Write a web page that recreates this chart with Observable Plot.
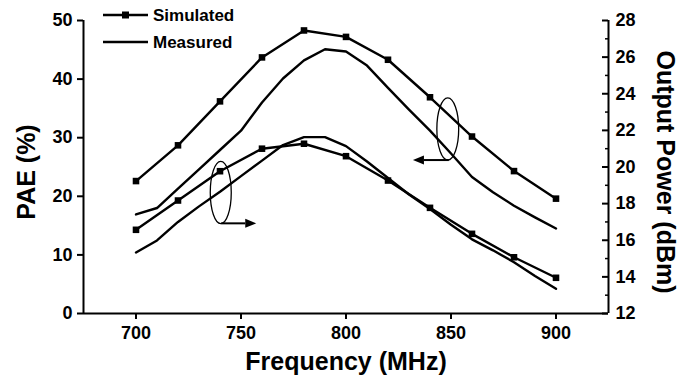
<!DOCTYPE html>
<html>
<head>
<meta charset="utf-8">
<script src="https://cdn.jsdelivr.net/npm/d3@7"></script>
<script src="https://cdn.jsdelivr.net/npm/@observablehq/plot@0.6"></script>
<style>
  html, body { margin: 0; padding: 0; background: #fff; }
  #wrap { position: relative; width: 684px; height: 381px; overflow: hidden; }
  #legend { position: absolute; left: 0; top: 0; }
</style>
</head>
<body>
<div id="wrap"></div>
<script>
// ---------- data ----------
const freqSim  = [700, 720, 740, 760, 780, 800, 820, 840, 860, 880, 900];
const simPAE   = [22.6, 28.7, 36.2, 43.7, 48.3, 47.2, 43.3, 36.9, 30.2, 24.3, 19.6];
const simPout  = [16.57, 18.17, 19.77, 21.0, 21.27, 20.59, 19.26, 17.77, 16.35, 15.07, 13.95];

const freqMeas = [700, 710, 720, 730, 740, 750, 760, 770, 780, 790, 800, 810, 820, 830, 840, 850, 860, 870, 880, 890, 900];
const measPAE  = [16.9, 18.0, 21.3, 24.6, 27.9, 31.2, 36.0, 40.1, 43.2, 45.1, 44.7, 42.3, 38.5, 34.8, 31.2, 27.3, 23.3, 20.7, 18.4, 16.4, 14.5];
const measPout = [15.33, 15.99, 17.0, 17.85, 18.65, 19.5, 20.35, 21.2, 21.63, 21.63, 21.14, 20.3, 19.4, 18.5, 17.7, 16.85, 16.05, 15.45, 14.8, 14.05, 13.35];

const xTicks     = [700, 750, 800, 850, 900];
const paeTicks   = [0, 10, 20, 30, 40, 50];
const poutTicks  = [12, 14, 16, 18, 20, 22, 24, 26, 28];
const poutMinor  = [13, 15, 17, 19, 21, 23, 25, 27];

const xTitle = "Frequency (MHz)";
const yTitleLeft = "PAE (%)";
const yTitleRight = "Output Power (dBm)";
const seriesNames = ["Simulated", "Measured"];

// annotation ellipses (data units) and arrows
const ellipseCX = [740.6, 848.7];
const ellipseCY = [20.56, 31.4];
const ellipseRX = [5.0, 5.2];
const ellipseRY = [5.3, 5.3];
const arrowX1 = [740.8, 849.2];
const arrowX2 = [757.5, 832.1];
const arrowY  = [15.3, 26.1];

// ---------- scales ----------
const xDomain = [675, 925];
const paeDomain = [0, 50];
const poutDomain = [12, 28];
const toPAE = p => (p - poutDomain[0]) * (paeDomain[1] - paeDomain[0]) / (poutDomain[1] - poutDomain[0]) + paeDomain[0];
const fromPAE = v => (v - paeDomain[0]) * (poutDomain[1] - poutDomain[0]) / (paeDomain[1] - paeDomain[0]) + poutDomain[0];

const simPaeData  = freqSim.map((f, i) => ({f, v: simPAE[i]}));
const simPoutData = freqSim.map((f, i) => ({f, v: toPAE(simPout[i])}));
const measPaeData  = freqMeas.map((f, i) => ({f, v: measPAE[i]}));
const measPoutData = freqMeas.map((f, i) => ({f, v: toPAE(measPout[i])}));

const FONT = "'Liberation Sans', Arial, Helvetica, sans-serif";
const W = 684, H = 381, ML = 83, MR = 76, MT = 20, MB = 68;
const frameW = W - ML - MR;
const TICKFS = 18;

const lineOpts = {x: "f", y: "v", stroke: "black", strokeWidth: 2.4, curve: "linear"};
const dotOpts = {x: "f", y: "v", symbol: "square", fill: "black", stroke: "none", r: 3.7};

const chart = Plot.plot({
  width: W, height: H,
  marginLeft: ML, marginRight: MR, marginTop: MT, marginBottom: MB,
  style: {fontFamily: FONT, fontWeight: "bold", fontSize: TICKFS + "px", background: "white", color: "black", overflow: "visible"},
  x: {domain: xDomain},
  y: {domain: paeDomain},
  marks: [
    Plot.ruleX(xDomain, {stroke: "black", strokeWidth: 2}),
    Plot.ruleY([paeDomain[0]], {stroke: "black", strokeWidth: 2}),
    Plot.axisX({ticks: xTicks, tickSize: 6, tickPadding: 7, strokeWidth: 2, label: null, fontSize: TICKFS, fontWeight: "bold"}),
    Plot.axisY({anchor: "left", ticks: paeTicks, tickSize: 6, tickPadding: 5, strokeWidth: 2, label: null, fontSize: TICKFS, fontWeight: "bold"}),
    Plot.axisY({anchor: "right", ticks: poutTicks.map(toPAE), tickFormat: v => String(Math.round(fromPAE(v))), tickSize: 0, tickPadding: 7, label: null, fontSize: TICKFS, fontWeight: "bold"}),
    Plot.tickY(poutTicks.map(toPAE), {insetLeft: frameW - 6, stroke: "black", strokeWidth: 2}),
    Plot.tickY(poutMinor.map(toPAE), {insetLeft: frameW - 3, stroke: "black", strokeWidth: 1.5}),
    Plot.line(simPaeData, lineOpts),
    Plot.dot(simPaeData, dotOpts),
    Plot.line(measPaeData, lineOpts),
    Plot.line(simPoutData, lineOpts),
    Plot.dot(simPoutData, dotOpts),
    Plot.line(measPoutData, lineOpts),
    Plot.text([xTitle], {frameAnchor: "bottom", textAnchor: "middle", dy: 56, fontSize: 25, fontWeight: "bold", fill: "black"}),
    Plot.text([yTitleLeft], {frameAnchor: "left", textAnchor: "middle", rotate: -90, dx: -57, dy: 5, fontSize: 25, fontWeight: "bold", fill: "black"}),
    Plot.text([yTitleRight], {frameAnchor: "right", textAnchor: "middle", rotate: 90, dx: 56, dy: 5, fontSize: 25, fontWeight: "bold", fill: "black"})
  ]
});

// ---------- annotations via Plot's scales ----------
const sx = chart.scale("x"), sy = chart.scale("y");
const X = v => sx.apply(v), Y = v => sy.apply(v);
const NS = "http://www.w3.org/2000/svg";
const g = document.createElementNS(NS, "g");
for (let i = 0; i < ellipseCX.length; i++) {
  const e = document.createElementNS(NS, "ellipse");
  e.setAttribute("cx", X(ellipseCX[i]));
  e.setAttribute("cy", Y(ellipseCY[i]));
  e.setAttribute("rx", Math.abs(X(ellipseCX[i] + ellipseRX[i]) - X(ellipseCX[i])));
  e.setAttribute("ry", Math.abs(Y(ellipseCY[i] + ellipseRY[i]) - Y(ellipseCY[i])));
  e.setAttribute("fill", "none");
  e.setAttribute("stroke", "black");
  e.setAttribute("stroke-width", 1.3);
  g.appendChild(e);
}
for (let i = 0; i < arrowX1.length; i++) {
  const x1 = X(arrowX1[i]), x2 = X(arrowX2[i]), y = Y(arrowY[i]);
  const dir = Math.sign(x2 - x1), hl = 11, hw = 4.5;
  const l = document.createElementNS(NS, "line");
  l.setAttribute("x1", x1); l.setAttribute("x2", x2 - dir * hl);
  l.setAttribute("y1", y); l.setAttribute("y2", y);
  l.setAttribute("stroke", "black"); l.setAttribute("stroke-width", 2);
  g.appendChild(l);
  const p = document.createElementNS(NS, "polygon");
  p.setAttribute("points", `${x2},${y} ${x2 - dir * hl},${y - hw} ${x2 - dir * hl},${y + hw}`);
  p.setAttribute("fill", "black");
  g.appendChild(p);
}
chart.appendChild(g);

const wrap = document.getElementById("wrap");
wrap.appendChild(chart);

// ---------- legend overlay ----------
const leg = d3.create("svg").attr("id", "legend").attr("width", 260).attr("height", 60)
  .style("font-family", FONT).style("font-weight", "bold").style("font-size", "17px");
const rows = [{name: seriesNames[0], y: 15, marker: true}, {name: seriesNames[1], y: 42, marker: false}];
for (const r of rows) {
  leg.append("line").attr("x1", 103).attr("x2", 148).attr("y1", r.y).attr("y2", r.y)
    .attr("stroke", "black").attr("stroke-width", 2.4);
  if (r.marker) leg.append("rect").attr("x", 125.5 - 3.5).attr("y", r.y - 3.5).attr("width", 7).attr("height", 7).attr("fill", "black");
  leg.append("text").attr("x", 153).attr("y", r.y + 6).attr("fill", "black").text(r.name);
}
wrap.appendChild(leg.node());
</script>
</body>
</html>
